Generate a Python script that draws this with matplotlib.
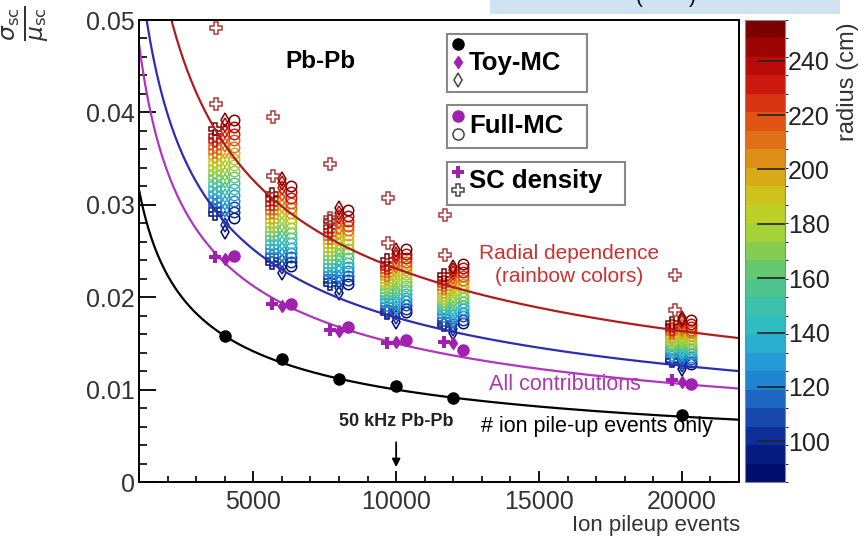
import numpy as np
import matplotlib.pyplot as plt
from matplotlib.colors import BoundaryNorm, LinearSegmentedColormap
from matplotlib.patches import Rectangle
from matplotlib.ticker import MultipleLocator, FuncFormatter

plt.rcParams['font.family'] = ['Liberation Sans', 'DejaVu Sans']

# pile-up settings
pileup = [4000, 6000, 8000, 10000, 12000, 20000]

# Toy-MC, ion pile-up events only (black)
toy_ion = [0.0158, 0.0133, 0.0112, 0.0104, 0.0091, 0.00725]
# all contributions (magenta)
toy_all = [0.0241, 0.0191, 0.0163, 0.0151, 0.0150, 0.0108]
full_all = [0.0245, 0.0193, 0.0168, 0.0154, 0.0143, 0.0106]
sc_all = [0.0243, 0.0193, 0.0164, 0.0150, 0.0152, 0.0110]

# fitted curve amplitudes (sigma/mu = a / sqrt(N))
fit_amp = {'ion': 1.00, 'all': 1.50, 'blue': 1.78, 'radial': 2.31}

# radial dependence: value at r=250 cm per pile-up, and shape vs radius
radii = [90, 100, 110, 120, 130, 140, 150, 160, 170, 180, 190, 200, 210, 220, 230, 240, 250]
top_sc = [0.0382, 0.0312, 0.0282, 0.0240, 0.0224, 0.0172]
top_toy = [0.0392, 0.0328, 0.0296, 0.0251, 0.0233, 0.0178]
top_full = [0.0392, 0.0320, 0.0294, 0.0252, 0.0236, 0.0175]
shape_sc = [0.76, 0.77, 0.785, 0.80, 0.815, 0.83, 0.845, 0.86, 0.875, 0.89, 0.905, 0.92, 0.935, 0.95, 0.965, 0.98, 1.0]
shape_toy = [0.69, 0.71, 0.73, 0.75, 0.77, 0.79, 0.81, 0.83, 0.85, 0.87, 0.89, 0.91, 0.93, 0.95, 0.97, 0.985, 1.0]
shape_full = [0.73, 0.745, 0.76, 0.776, 0.792, 0.808, 0.825, 0.842, 0.858, 0.875, 0.892, 0.909, 0.926, 0.943, 0.961, 0.98, 1.0]

# SC density points beyond the colour range
sc_out_x = [3700, 3700, 5700, 5700, 7700, 7700, 9700, 9700, 11700, 11700, 19750, 19750]
sc_out_y = [0.0491, 0.0409, 0.0395, 0.0331, 0.0344, 0.0286, 0.0307, 0.0259, 0.0289, 0.0246, 0.0224, 0.0186]

# ROOT-like rainbow palette, bottom to top
palette = ['#000c6e', '#0a2590', '#1a4fb5', '#2080d0', '#25a5d8', '#30bcc0', '#45c49a', '#6cc865',
           '#9fd23a', '#c6d020', '#d8aa18', '#e07c18', '#e04a12', '#d01a0e', '#b00606', '#7c0000']

fig = plt.figure(figsize=(8.61, 5.39), dpi=100)
ax = fig.add_axes([139/861, 57/539, 600/861, 462/539])
cax = fig.add_axes([745/861, 57/539, 40/861, 462/539])

cmap = LinearSegmentedColormap.from_list('rootrainbow', palette, N=256)
levels = np.linspace(85, 255, 26)
norm = BoundaryNorm(levels, cmap.N)

r = np.array(radii)
for i, n in enumerate(pileup):
    for top, shape, dx, mk, ms in [(top_sc, shape_sc, -330, 'P', 8.5),
                                    (top_toy, shape_toy, 0, 'd', 7.5),
                                    (top_full, shape_full, 330, 'o', 7.5)]:
        y = top[i] * np.array(shape)
        cols = cmap(norm(r))
        for yy, c in zip(y, cols):
            ax.plot(n + dx, yy, mk, ms=ms, mfc='none', mec=c, mew=1.1)

ax.plot(sc_out_x, sc_out_y, 'P', ms=8.5, mfc='none', mec='#b03a3a', mew=1.1)

xs = np.linspace(1000, 22000, 500)
ax.plot(xs, fit_amp['radial'] / np.sqrt(xs), color='#b01c1c', lw=1.6)
ax.plot(xs, fit_amp['blue'] / np.sqrt(xs), color='#2c2cb4', lw=1.6)
ax.plot(xs, fit_amp['all'] / np.sqrt(xs), color='#b035c0', lw=1.6)
ax.plot(xs, fit_amp['ion'] / np.sqrt(xs), color='black', lw=1.6)

px = np.array(pileup)
ax.plot(px - 330, sc_all, 'P', ms=9, color='#a020b0', mew=0)
ax.plot(px, toy_all, 'd', ms=6, color='#a020b0')
ax.plot(px + 330, full_all, 'o', ms=8, color='#a020b0')
ax.plot(px, toy_ion, 'o', ms=8, color='black')

ax.set_xlim(1000, 22000)
ax.set_ylim(0, 0.05)
ax.xaxis.set_major_locator(MultipleLocator(5000))
ax.xaxis.set_minor_locator(MultipleLocator(1000))
ax.yaxis.set_major_locator(MultipleLocator(0.01))
ax.yaxis.set_minor_locator(MultipleLocator(0.002))
ax.yaxis.set_major_formatter(FuncFormatter(lambda v, _: '0' if v == 0 else f'{v:.2f}'))
ax.tick_params(which='both', direction='in', labelsize=18, top=False, right=False)
ax.tick_params(axis='y', which='major', length=12, width=1.3, pad=3)
ax.tick_params(axis='y', which='minor', length=6, width=1.2)
ax.tick_params(axis='x', which='major', length=8, width=1.3, pad=6)
ax.tick_params(axis='x', which='minor', length=4, width=1.2)
for s in ax.spines.values():
    s.set_linewidth(1.4)
for lab in ax.get_xticklabels() + ax.get_yticklabels():
    lab.set_color('#333333')

# labels
fig.text(740/861, 1 - 526/539, 'Ion pileup events', ha='right', va='center', fontsize=16, color='#333333')
fig.text(26/861, 1 - 6/539, r'$\frac{\sigma_{\mathrm{sc}}}{\mu_{\mathrm{sc}}}$', rotation=90,
         ha='center', va='top', fontsize=24, color='#333333')

ax.text(7350, 0.0455, 'Pb-Pb', fontsize=17.5, fontweight='bold', ha='center', va='center')
ax.text(16050, 0.0235, 'Radial dependence\n(rainbow colors)', color='#cc3030', fontsize=15,
        ha='center', va='center', linespacing=1.25)
ax.text(15900, 0.0106, 'All contributions', color='#b035b0', fontsize=15.5, ha='center', va='center')
ax.text(17030, 0.0060, '# ion pile-up events only', color='black', fontsize=15.5, ha='center', va='center')
ax.text(10000, 0.0066, '50 kHz Pb-Pb', fontsize=13, fontweight='bold', ha='center', va='center', color='#222222')
ax.annotate('', xy=(10000, 0.0013), xytext=(10000, 0.0046),
            arrowprops=dict(arrowstyle='-|>', color='black', lw=1.3, mutation_scale=12))

# legend boxes
boxes = [(0.513, 0.844, 0.234, 0.126), (0.513, 0.723, 0.234, 0.093), (0.513, 0.600, 0.297, 0.093)]
for bx, by, bw, bh in boxes:
    ax.add_patch(Rectangle((bx, by), bw, bh, transform=ax.transAxes, fill=True, fc='white',
                           ec='#888888', lw=1.5, zorder=5))
kw = dict(transform=ax.transAxes, clip_on=False, zorder=6)
ax.plot(0.532, 0.948, 'o', ms=8, color='black', **kw)
ax.plot(0.532, 0.909, 'd', ms=6, color='#a020b0', **kw)
ax.plot(0.532, 0.870, 'd', ms=7, mfc='none', mec='#444444', mew=1.1, **kw)
ax.plot(0.532, 0.792, 'o', ms=8, color='#a020b0', **kw)
ax.plot(0.532, 0.753, 'o', ms=8, mfc='none', mec='#444444', mew=1.1, **kw)
ax.plot(0.532, 0.671, 'P', ms=9, color='#a020b0', mew=0, **kw)
ax.plot(0.532, 0.632, 'P', ms=9, mfc='none', mec='#444444', mew=1.1, **kw)
ax.text(0.550, 0.907, 'Toy-MC', fontsize=18.5, fontweight='bold', va='center', transform=ax.transAxes, zorder=7)
ax.text(0.550, 0.771, 'Full-MC', fontsize=18.5, fontweight='bold', va='center', transform=ax.transAxes, zorder=7)
ax.text(0.550, 0.652, 'SC density', fontsize=18.5, fontweight='bold', va='center', transform=ax.transAxes, zorder=7)

# colour bar
sm = plt.cm.ScalarMappable(norm=norm, cmap=cmap)
cb = fig.colorbar(sm, cax=cax, ticks=[100, 120, 140, 160, 180, 200, 220, 240])
cb.outline.set_edgecolor('#888888')
cax.tick_params(direction='in', length=20, width=1.2, labelsize=18, pad=2, colors='#222222')
fig.text(848/861, 1 - 22/539, 'radius (cm)', rotation=90, ha='center', va='top', fontsize=17, color='#333333')

# piece of an overlapping caption at the top
fig.patches.append(Rectangle((490/861, 1 - 14/539), 350/861, 14/539, transform=fig.transFigure,
                             fc='#cfe3f3', ec='none'))
fig.text(666/861, 1.004, '(        )', ha='center', va='center', fontsize=15)

fig.savefig('out.png', dpi=100)
